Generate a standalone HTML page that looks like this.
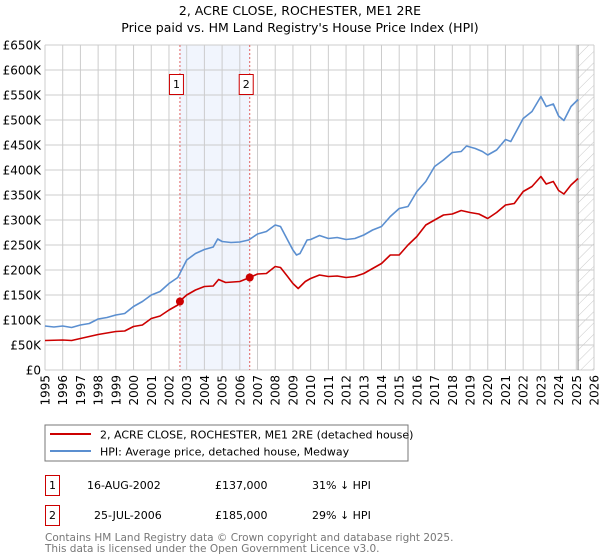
<!DOCTYPE html>
<html><head><meta charset="utf-8"><style>
body{margin:0;background:#fff;font-family:"DejaVu Sans","Liberation Sans",sans-serif;}
svg{display:block}
</style></head><body>
<svg width="600" height="560" xmlns="http://www.w3.org/2000/svg" font-family="DejaVu Sans, Liberation Sans, sans-serif">
<defs><pattern id="hatch" width="8" height="8" patternUnits="userSpaceOnUse" patternTransform="rotate(45)"><line x1="0" y1="0" x2="0" y2="8" stroke="#bbb" stroke-width="0.8"/></pattern></defs>
<text x="300" y="15" text-anchor="middle" font-size="12.5">2, ACRE CLOSE, ROCHESTER, ME1 2RE</text>
<text x="300" y="32" text-anchor="middle" font-size="12.5">Price paid vs. HM Land Registry's House Price Index (HPI)</text>
<g id="plot"></g>
<rect x="45" y="425" width="363" height="36" fill="#fff" stroke="#777"/>
<line x1="50" y1="434" x2="91" y2="434" stroke="#cc0000" stroke-width="2"/>
<text x="100" y="438.5" font-size="11">2, ACRE CLOSE, ROCHESTER, ME1 2RE (detached house)</text>
<line x1="50" y1="451" x2="91" y2="451" stroke="#5b8fd0" stroke-width="2"/>
<text x="100" y="455.5" font-size="11">HPI: Average price, detached house, Medway</text>
<g font-size="11">
<rect x="45.5" y="475.5" width="14" height="20" fill="none" stroke="#cc0000"/>
<text x="52.5" y="489" text-anchor="middle">1</text>
<text x="87" y="489">16-AUG-2002</text>
<text x="215" y="489">£137,000</text>
<text x="312" y="489">31% ↓ HPI</text>
<rect x="45.5" y="505.5" width="14" height="20" fill="none" stroke="#cc0000"/>
<text x="52.5" y="519" text-anchor="middle">2</text>
<text x="94" y="519">25-JUL-2006</text>
<text x="215" y="519">£185,000</text>
<text x="312" y="519">29% ↓ HPI</text>
</g>
<text x="45" y="541" font-size="10.5" fill="#777">Contains HM Land Registry data © Crown copyright and database right 2025.</text>
<text x="45" y="552" font-size="10.5" fill="#777">This data is licensed under the Open Government Licence v3.0.</text>
</svg>
<script>
const hpiYears=[1995,1995.5,1996,1996.5,1997,1997.5,1998,1998.5,1999,1999.5,2000,2000.5,2001,2001.5,2002,2002.5,2003,2003.5,2004,2004.5,2004.75,2005,2005.5,2006,2006.5,2007,2007.5,2008,2008.3,2008.7,2009,2009.2,2009.4,2009.8,2010,2010.5,2011,2011.5,2012,2012.5,2013,2013.5,2014,2014.5,2015,2015.5,2016,2016.5,2017,2017.5,2018,2018.5,2018.8,2019.3,2019.7,2020,2020.5,2021,2021.3,2022,2022.5,2023,2023.3,2023.7,2024,2024.3,2024.7,2025.1];
const hpiValues=[88,86,88,85,90,93,102,105,110,113,127,137,150,157,173,185,220,233,241,246,262,257,255,256,260,272,277,290,287,260,240,230,233,260,261,269,263,265,261,263,270,280,287,307,323,327,357,377,407,420,435,437,448,443,437,430,440,461,457,503,517,547,527,532,508,499,527,541];
const priceYears=[1995,1996,1996.5,1997,1998,1999,1999.5,2000,2000.5,2001,2001.5,2002,2002.5,2002.62,2003,2003.5,2004,2004.5,2004.8,2005.2,2006,2006.56,2007,2007.5,2008,2008.3,2008.7,2009,2009.3,2009.7,2010,2010.5,2011,2011.5,2012,2012.5,2013,2013.5,2014,2014.5,2015,2015.5,2016,2016.5,2017,2017.5,2018,2018.5,2019,2019.5,2020,2020.5,2021,2021.5,2022,2022.5,2023,2023.3,2023.7,2024,2024.3,2024.7,2025.1];
const priceValues=[59,60,59,63,71,77,78,87,90,103,108,120,130,138,150,160,167,168,181,175,177,185,192,193,207,205,187,173,163,177,183,190,187,188,185,187,193,203,213,230,230,250,267,290,300,310,312,319,315,312,303,315,330,333,357,367,387,372,377,359,352,370,383];
const saleYears=[2002.62,2006.56];
const saleValues=[137,185];
const saleLabels=["1","2"];
const yTicks=[0,50,100,150,200,250,300,350,400,450,500,550,600,650];
const yTickLabels=["£0","£50K","£100K","£150K","£200K","£250K","£300K","£350K","£400K","£450K","£500K","£550K","£600K","£650K"];
const xTicks=[1995,1996,1997,1998,1999,2000,2001,2002,2003,2004,2005,2006,2007,2008,2009,2010,2011,2012,2013,2014,2015,2016,2017,2018,2019,2020,2021,2022,2023,2024,2025,2026];
const dataEnd=2025.1;

const L=45,R=594,T=45,B=370,X0=1995,X1=2026,YMAX=650;
const sx=v=>L+(v-X0)/(X1-X0)*(R-L);
const sy=v=>B-v/YMAX*(B-T);
const NS="http://www.w3.org/2000/svg";
const g=document.getElementById('plot');
function mk(tag,attrs,parent){const e=document.createElementNS(NS,tag);for(const k in attrs)e.setAttribute(k,attrs[k]);(parent||g).appendChild(e);return e;}

let e=mk('rect',{x:sx(saleYears[0]),y:T,width:sx(saleYears[1])-sx(saleYears[0]),height:B-T,fill:'#eef3fc',opacity:0.8});


e=mk('rect',{x:sx(dataEnd),y:T,width:R-sx(dataEnd),height:B-T,fill:'url(#hatch)'});


yTicks.forEach((v,i)=>{
  let l=mk('line',{x1:L,x2:R,y1:sy(v),y2:sy(v),stroke:'#ccc','stroke-width':1});
  
  
  let t=mk('text',{x:L-4,y:sy(v)+4.5,'text-anchor':'end','font-size':12});
  t.textContent=yTickLabels[i];
  
  
});
xTicks.forEach(v=>{
  let l=mk('line',{x1:sx(v),x2:sx(v),y1:T,y2:B,stroke:'#ccc','stroke-width':1});
  
  
  let t=mk('text',{x:0,y:0,'text-anchor':'end','font-size':12,transform:`translate(${sx(v)+4.5},${B+5}) rotate(-90)`});
  t.textContent=String(v);
  
  
});
e=mk('line',{x1:sx(dataEnd),x2:sx(dataEnd),y1:T,y2:B,stroke:'#888','stroke-width':1});


saleYears.forEach((y,i)=>{
  let l=mk('line',{x1:sx(y),x2:sx(y),y1:T,y2:B,stroke:'#e06060','stroke-width':1,'stroke-dasharray':'2,2'});
  
  
  let b=mk('rect',{x:sx(y)-10.5,y:74.5,width:14,height:20,fill:'#fff',stroke:'#cc0000'});
  
  
  let t=mk('text',{x:sx(y)-3.5,y:88,'text-anchor':'middle','font-size':11});
  t.textContent=saleLabels[i];
  
  
});
function path(xs,ys,c,name){
  const d=xs.map((x,i)=>(i?'L':'M')+sx(x).toFixed(1)+','+sy(ys[i]).toFixed(1)).join('');
  const p=mk('path',{d:d,fill:'none',stroke:c,'stroke-width':1.6,'stroke-linejoin':'round'});
  
  
}
path(hpiYears,hpiValues,'#5b8fd0','hpi-line');
path(priceYears,priceValues,'#cc0000','price-paid-line');
saleYears.forEach((y,i)=>{
  const c=mk('circle',{cx:sx(y),cy:sy(saleValues[i]),r:4,fill:'#cc0000'});
  
  
});
</script>
</body></html>
